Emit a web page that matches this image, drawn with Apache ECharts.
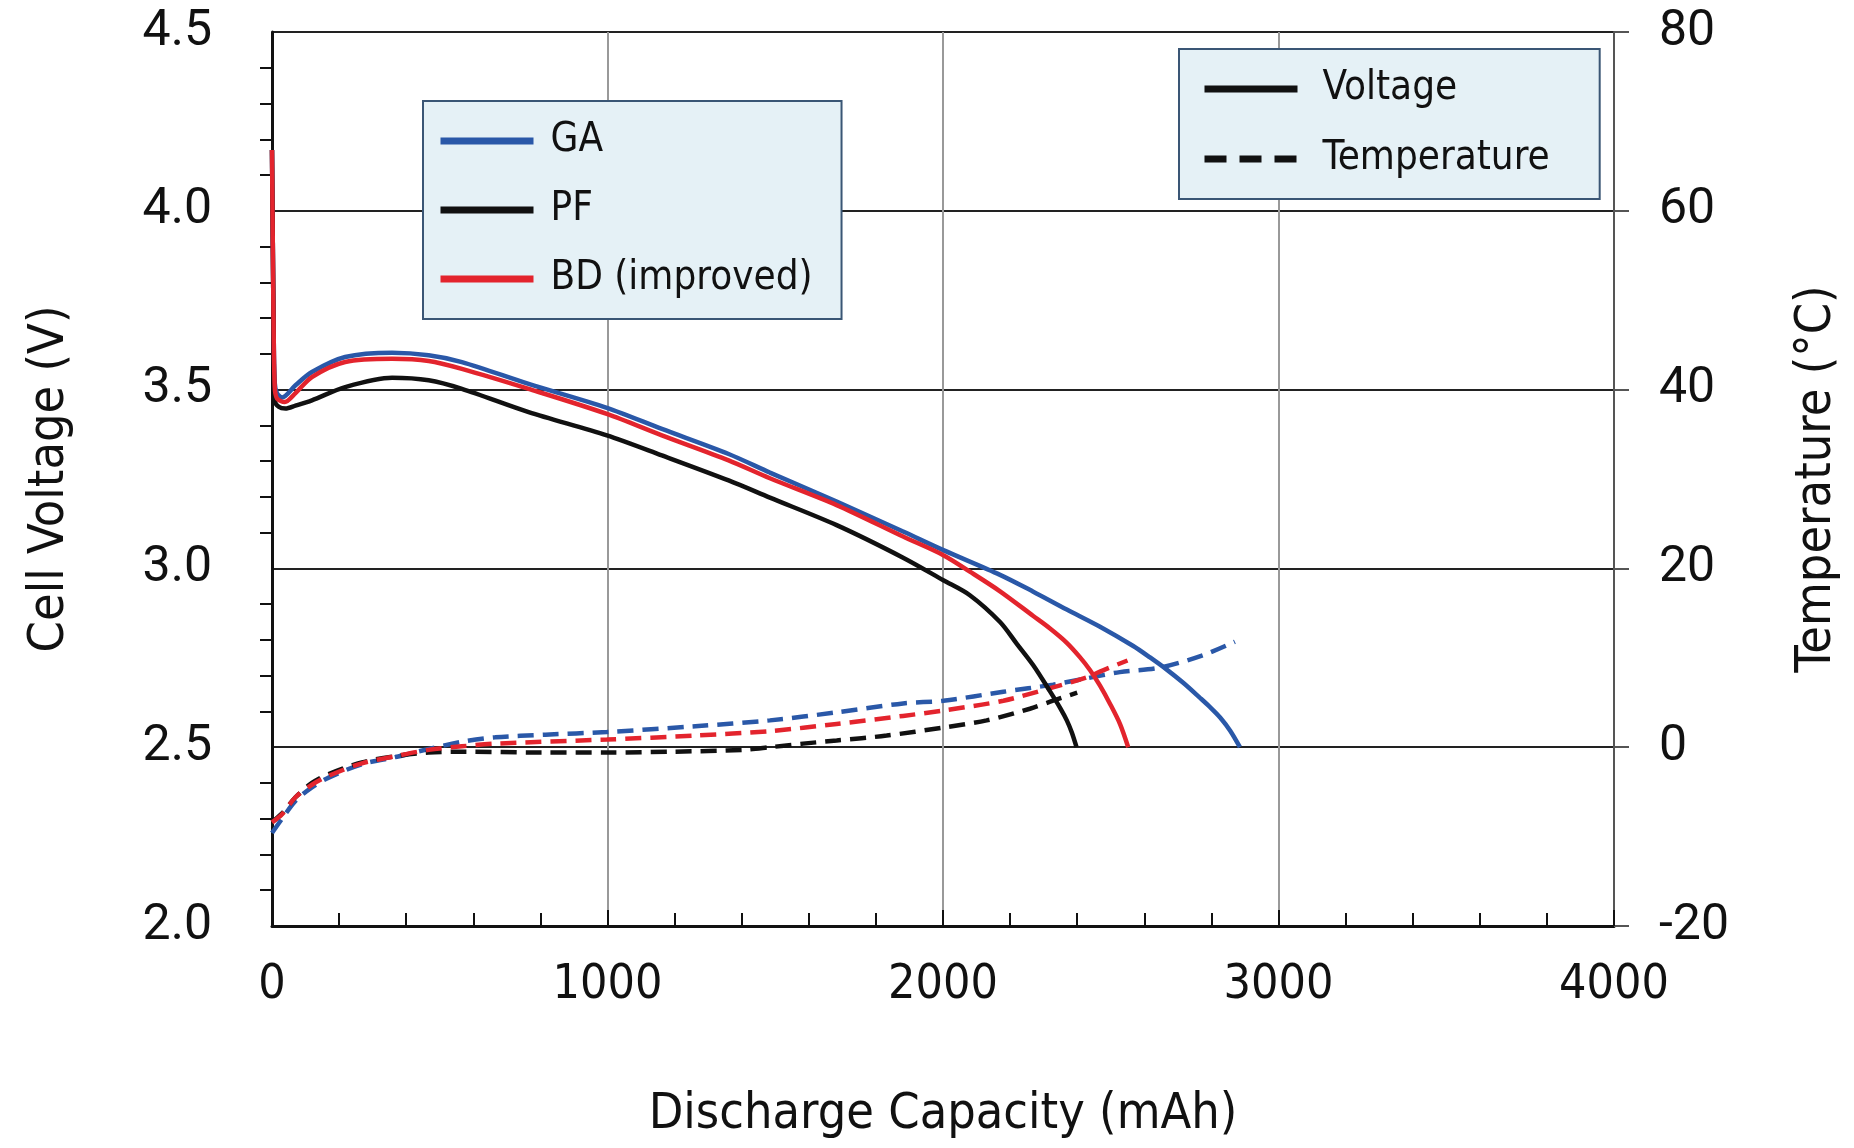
<!DOCTYPE html>
<html>
<head>
<meta charset="utf-8">
<script src="https://cdn.jsdelivr.net/npm/echarts@6/dist/echarts.min.js"></script>
<style>
html,body{margin:0;padding:0;background:#fff;}
#chart{width:1854px;height:1148px;}
</style>
</head>
<body>
<div id="chart"></div>
<script>
// ---- data (capacity mAh, value) ----
const xTicks = [0, 1000, 2000, 3000, 4000];
const voltTicks = [2.0, 2.5, 3.0, 3.5, 4.0, 4.5];
const tempTicks = [-20, 0, 20, 40, 60, 80];

const gaVoltage = [[0,4.17],[4,3.75],[8,3.52],[15,3.49],[30,3.478],[70,3.512],[119,3.549],[218,3.591],[358,3.603],[467,3.596],[566,3.577],[765,3.516],[998,3.449],[1162,3.390],[1361,3.320],[1484,3.268],[1683,3.187],[1881,3.103],[2001,3.051],[2170,2.982],[2269,2.935],[2369,2.885],[2468,2.837],[2567,2.783],[2617,2.751],[2667,2.717],[2716,2.680],[2766,2.638],[2796,2.612],[2826,2.583],[2856,2.546],[2885,2.500]];
const pfVoltage = [[0,4.17],[4,3.75],[8,3.47],[20,3.452],[40,3.447],[70,3.455],[119,3.470],[218,3.507],[358,3.533],[467,3.526],[566,3.502],[765,3.437],[998,3.372],[1162,3.316],[1361,3.246],[1484,3.198],[1683,3.121],[1881,3.030],[2001,2.967],[2080,2.925],[2170,2.850],[2220,2.789],[2269,2.729],[2319,2.656],[2349,2.610],[2369,2.575],[2384,2.541],[2398,2.500]];
const bdVoltage = [[0,4.17],[4,3.75],[8,3.51],[15,3.475],[38,3.465],[70,3.49],[119,3.535],[218,3.577],[358,3.586],[467,3.580],[566,3.558],[765,3.502],[998,3.432],[1162,3.372],[1361,3.302],[1484,3.252],[1683,3.177],[1881,3.089],[2001,3.037],[2080,2.991],[2170,2.936],[2269,2.867],[2319,2.832],[2369,2.792],[2408,2.752],[2438,2.716],[2468,2.672],[2498,2.621],[2528,2.564],[2552,2.500]];

const gaTemp = [[0,-9.6],[30,-8.0],[70,-6.0],[119,-4.5],[169,-3.4],[268,-1.9],[368,-1.1],[467,-0.2],[566,0.6],[665,1.1],[815,1.4],[998,1.7],[1262,2.35],[1484,3.0],[1683,3.9],[1881,4.9],[2001,5.2],[2180,6.2],[2328,7.0],[2428,7.7],[2527,8.4],[2647,8.9],[2776,10.3],[2870,11.8]];
const pfTemp = [[0,-8.4],[30,-7.4],[70,-5.6],[119,-4.0],[169,-3.0],[268,-1.7],[368,-1.0],[467,-0.6],[566,-0.5],[800,-0.6],[1000,-0.6],[1200,-0.5],[1400,-0.3],[1484,0.0],[1583,0.4],[1683,0.75],[1832,1.3],[2001,2.2],[2130,3.0],[2259,4.3],[2328,5.2],[2400,6.1]];
const bdTemp = [[0,-8.4],[30,-7.5],[70,-5.6],[119,-4.2],[169,-3.2],[268,-1.8],[368,-1.0],[467,-0.3],[566,0.1],[665,0.4],[998,0.86],[1262,1.3],[1484,1.8],[1683,2.6],[1881,3.5],[2001,4.1],[2180,5.2],[2309,6.5],[2428,7.8],[2477,8.6],[2550,9.7]];

const seriesNames = ['GA', 'PF', 'BD (improved)'];
const kindNames = ['Voltage', 'Temperature'];
const colors = {GA: '#2a58a8', PF: '#111111', 'BD (improved)': '#e3242d'};

const narrow = "'Liberation Sans Narrow', 'DejaVu Sans Condensed', sans-serif";
const regular = "Roboto, 'Liberation Sans', sans-serif";

function voltSeries(name, data) {
  return {name, type: 'line', yAxisIndex: 0, data, symbol: 'none', showSymbol: false,
    smooth: 0.3,
    lineStyle: {color: colors[name], width: 4.5}, itemStyle: {color: colors[name]}, z: 3};
}
function tempSeries(name, data) {
  return {name, type: 'line', yAxisIndex: 1, data, symbol: 'none', showSymbol: false,
    smooth: 0.3,
    lineStyle: {color: colors[name], width: 4.5, type: [16, 9]}, itemStyle: {color: colors[name]}, z: 2};
}

const legendCommon = {
  orient: 'vertical',
  itemWidth: 93, itemHeight: 2,
  backgroundColor: '#e5f1f6',
  borderColor: '#3a5675', borderWidth: 2,
  itemStyle: {opacity: 0},
  lineStyle: {width: 7}
};

const chart = echarts.init(document.getElementById('chart'));
chart.setOption({
  animation: false,
  backgroundColor: '#ffffff',
  grid: {left: 272, right: 240, top: 32, bottom: 222},
  legend: [Object.assign({}, legendCommon, {
    data: seriesNames,
    left: 423, top: 101,
    padding: [14, 29, 14, 14],
    itemGap: 17,
    textStyle: {fontFamily: narrow, fontSize: 40, color: '#111', lineHeight: 52, padding: [0, 0, 0, 12]}
  }), Object.assign({}, legendCommon, {
    data: kindNames,
    left: 1179, top: 49,
    padding: [14, 50, 14, 22],
    itemGap: 18,
    textStyle: {fontFamily: narrow, fontSize: 40, color: '#111', lineHeight: 52, padding: [0, 0, 0, 20]}
  })],
  xAxis: {
    type: 'value', min: 0, max: 4000, interval: 1000,
    name: 'Discharge Capacity (mAh)', nameLocation: 'middle', nameGap: 164,
    nameTextStyle: {fontFamily: narrow, fontSize: 50, color: '#111'},
    axisLine: {show: true, onZero: false, lineStyle: {color: '#111', width: 3}},
    axisTick: {show: true, inside: true, length: 16, lineStyle: {color: '#111', width: 2}},
    minorTick: {show: true, splitNumber: 5, length: 13, lineStyle: {color: '#111', width: 2}},
    splitLine: {show: true, lineStyle: {color: '#999', width: 2}},
    axisLabel: {fontFamily: narrow, fontSize: 48, color: '#111', margin: 36,
      formatter: v => xTicks.includes(v) ? String(v) : ''}
  },
  yAxis: [{
    type: 'value', min: 2.0, max: 4.5, interval: 0.5, position: 'left',
    name: 'Cell Voltage (V)', nameLocation: 'middle', nameGap: 197, nameRotate: 90,
    nameTextStyle: {fontFamily: narrow, fontSize: 50, color: '#111'},
    axisLine: {show: true, lineStyle: {color: '#111', width: 3}},
    axisTick: {show: false},
    minorTick: {show: true, splitNumber: 5, length: 12, lineStyle: {color: '#111', width: 2}},
    splitLine: {show: true, lineStyle: {color: '#222', width: 2}},
    axisLabel: {fontFamily: regular, fontSize: 50, color: '#111', margin: 60,
      formatter: v => voltTicks.includes(+v.toFixed(1)) ? v.toFixed(1) : ''}
  }, {
    type: 'value', min: -20, max: 80, interval: 20, position: 'right',
    name: 'Temperature (°C)', nameLocation: 'middle', nameGap: 178, nameRotate: 90,
    nameTextStyle: {fontFamily: narrow, fontSize: 50, color: '#111'},
    axisLine: {show: true, lineStyle: {color: '#555', width: 2}},
    axisTick: {show: true, inside: false, length: 15, lineStyle: {color: '#555', width: 2}},
    splitLine: {show: false},
    axisLabel: {fontFamily: regular, fontSize: 50, color: '#111', margin: 45,
      formatter: v => tempTicks.includes(v) ? String(v) : ''}
  }],
  series: [
    voltSeries('GA', gaVoltage),
    voltSeries('PF', pfVoltage),
    voltSeries('BD (improved)', bdVoltage),
    tempSeries('GA', gaTemp),
    tempSeries('PF', pfTemp),
    tempSeries('BD (improved)', bdTemp),
    {name: 'Voltage', type: 'line', data: [], symbol: 'none', lineStyle: {color: '#111', width: 7}, itemStyle: {color: '#111'}},
    {name: 'Temperature', type: 'line', data: [], symbol: 'none', lineStyle: {color: '#111', width: 7, type: [22, 13]}, itemStyle: {color: '#111'}}
  ]
});
</script>
</body>
</html>
